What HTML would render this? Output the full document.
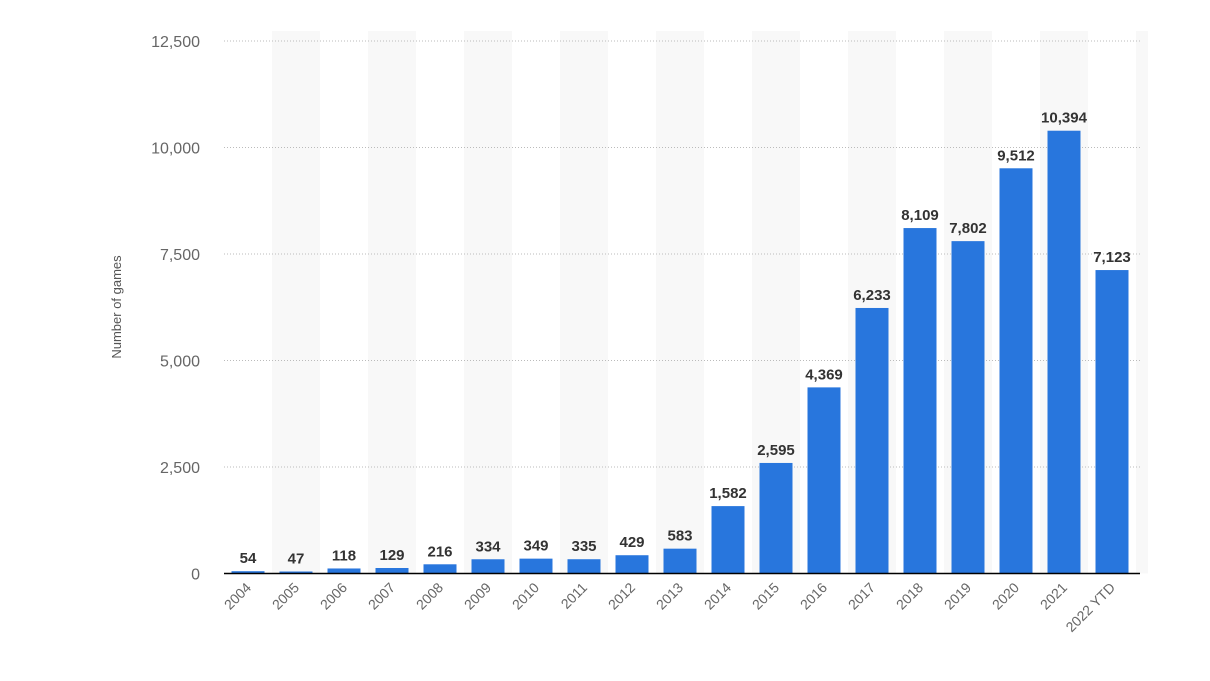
<!DOCTYPE html>
<html><head><meta charset="utf-8">
<style>
html,body{margin:0;padding:0;background:#fff;width:1210px;height:681px;overflow:hidden}
svg{display:block;font-family:"Liberation Sans","DejaVu Sans",sans-serif}
</style></head>
<body>
<svg id="chart" width="1210" height="681">
<g id="bands"></g><g id="grid"></g><g id="bars"></g><g id="labels"></g><g id="xt"></g><g id="yt"></g>
<text transform="translate(121,307) rotate(-90)" text-anchor="middle" font-size="13" fill="#555">Number of games</text>
</svg>
<script>
const categories=["2004","2005","2006","2007","2008","2009","2010","2011","2012","2013","2014","2015","2016","2017","2018","2019","2020","2021","2022 YTD"];
const values=[54,47,118,129,216,334,349,335,429,583,1582,2595,4369,6233,8109,7802,9512,10394,7123];
const yTicks=[0,2500,5000,7500,10000,12500];
const NS="http://www.w3.org/2000/svg";
const x0=224,band=48,bw=33,base=573.5,plotTop=41,ymax=12500;
const yScale=v=>base-(base-plotTop)*v/ymax;
const xc=i=>x0+band*i+band/2;
function mk(tag,attrs,parent,txt){const e=document.createElementNS(NS,tag);for(const k in attrs)e.setAttribute(k,attrs[k]);if(txt!==undefined)e.textContent=txt;document.getElementById(parent).appendChild(e);return e;}
const fmt=v=>v.toLocaleString("en-US");
categories.forEach((c,i)=>{
  if(i%2===1){const r=mk("rect",{x:x0+band*i,y:plotTop-10,width:band,height:base-plotTop+10,fill:"#f8f8f8"},"bands");
  
  }
});
const rs=mk("rect",{x:x0+band*19,y:plotTop-10,width:12,height:base-plotTop+10,fill:"#f8f8f8"},"bands");


yTicks.forEach(t=>{
  if(t>0){const l=mk("line",{x1:x0,x2:1140,y1:yScale(t),y2:yScale(t),stroke:"#bbb","stroke-dasharray":"1,2"},"grid");
  
  }
  const tx=mk("text",{x:200,y:yScale(t)+6,"text-anchor":"end","font-size":"16",fill:"#666"},"yt",fmt(t));
  
  
});
values.forEach((v,i)=>{
  const b=mk("rect",{x:xc(i)-bw/2,y:yScale(v),width:bw,height:base-yScale(v),fill:"#2876dd"},"bars");
  
  
  const t=mk("text",{x:xc(i),y:yScale(v)-8,"text-anchor":"middle","font-size":"15","font-weight":"bold",fill:"#333"},"labels",fmt(v));
  
  
  const xl=mk("text",{transform:`translate(${xc(i)+4},${base+15}) rotate(-45)`,"text-anchor":"end","font-size":"14",fill:"#666"},"xt",categories[i]);
  
  
});
const ax=mk("line",{x1:x0,x2:1140,y1:base,y2:base,stroke:"#000","stroke-width":"1.5"},"xt");


</script>
</body></html>
